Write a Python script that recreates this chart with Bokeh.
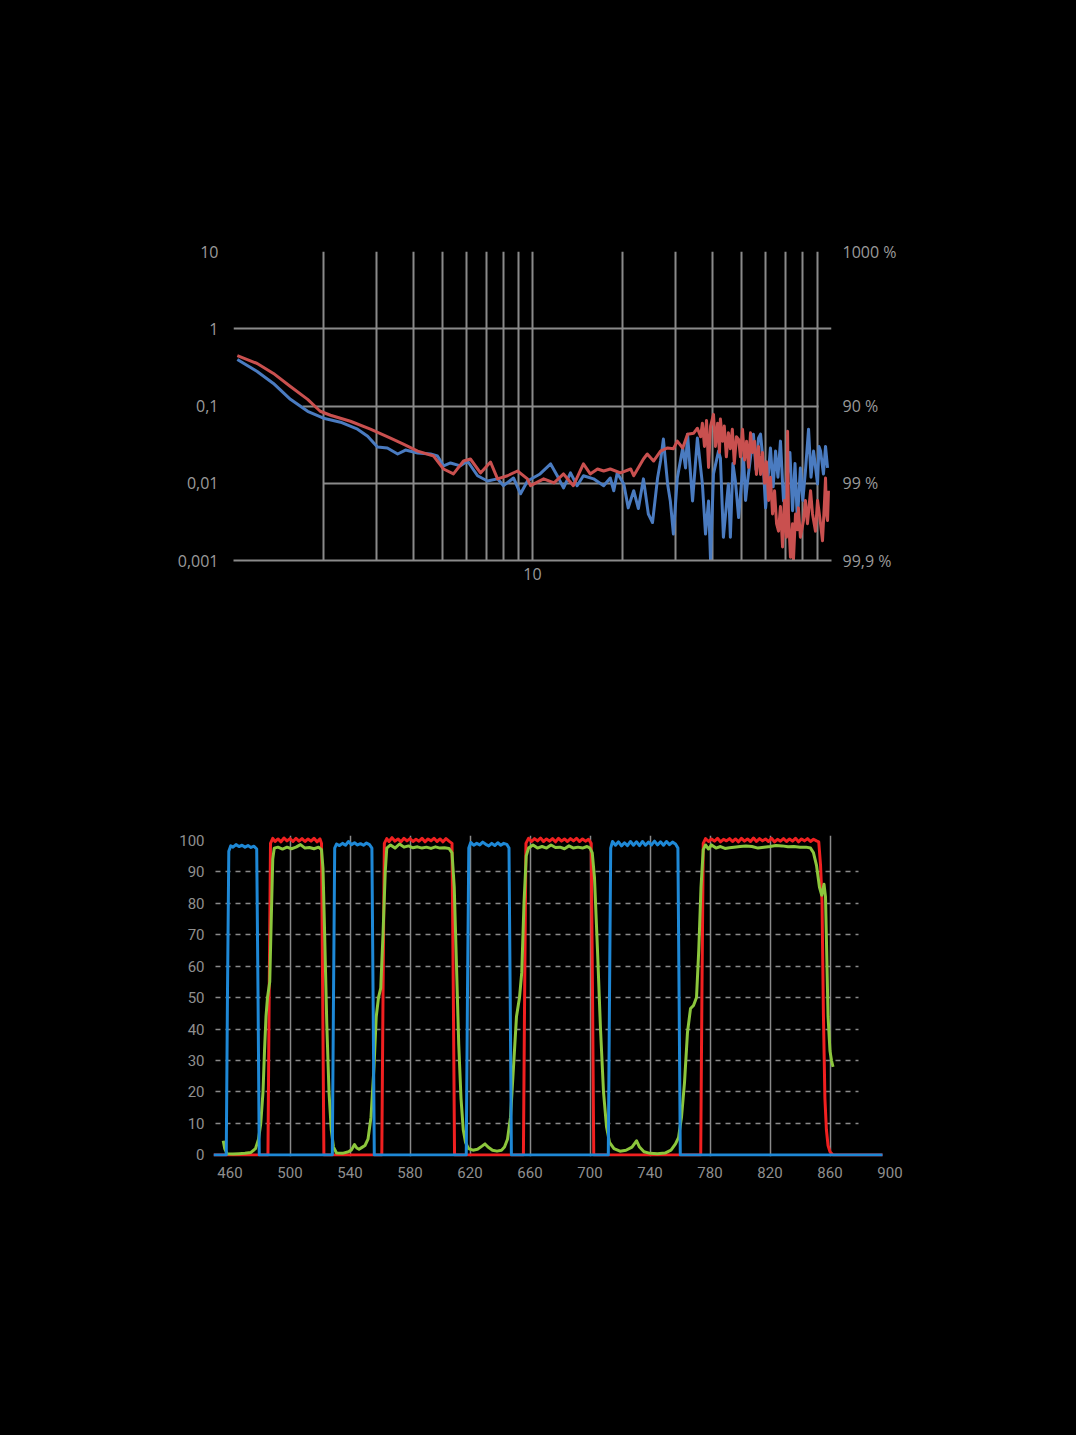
from bokeh.plotting import figure
from bokeh.models import FixedTicker, LogAxis, Grid, Range1d
from bokeh.embed import file_html
from bokeh.resources import INLINE

# ---------------- top chart data (log-log) ----------------
red_x = [1.03, 1.20, 1.36, 1.55, 1.77, 1.95, 2.11, 2.46, 2.87, 3.35, 3.70, 4.13, 4.67, 5.04, 5.44, 5.88,
         6.20, 6.70, 7.24, 7.64, 8.25, 8.91, 9.62, 9.85, 10.9, 11.8, 12.7, 13.7, 14.8, 15.6, 16.5, 17.3,
         18.2, 19.7, 21.3, 21.8, 23.5, 24.2, 25.4, 26.8, 28.3, 29.6, 30.5, 31.8, 33.0, 34.6, 35.6,
         36.5, 37.0, 37.6, 38.2, 38.8, 39.4, 40.3, 40.9, 41.6, 42.2, 42.5, 43.2, 43.8, 44.5, 45.2, 45.9,
         46.6, 47.3, 48.1, 48.9, 49.6, 50.4, 51.2, 52.0, 52.8, 53.6, 54.4, 55.3, 56.1, 57.0, 57.9, 58.8,
         59.7, 60.6, 61.6, 62.5, 63.5, 64.5, 65.5, 66.5, 67.5, 68.6, 69.6, 70.7, 71.3, 71.8, 72.9, 74.1,
         74.6, 75.8, 76.9, 77.5, 78.7, 80.6, 81.8, 83.1, 85.1, 86.4, 88.4, 89.8, 90.5, 91.9, 93.3, 94.8,
         95.5, 96.2, 97.0, 97.7]
red_y = [0.449, 0.355, 0.264, 0.179, 0.122, 0.0855, 0.0759, 0.0635, 0.0501, 0.0384, 0.0321, 0.0261,
         0.0225, 0.0153, 0.0132, 0.0194, 0.0206, 0.0136, 0.0188, 0.0114, 0.0125, 0.0144, 0.0114, 0.0093,
         0.0114, 0.0101, 0.0132, 0.0093, 0.0178, 0.0132, 0.0153, 0.0144, 0.0153, 0.0136, 0.0153, 0.0125,
         0.0206, 0.0239, 0.0194, 0.0261, 0.0286, 0.0280, 0.0351, 0.0286, 0.0432, 0.0445, 0.0515,
         0.040, 0.060, 0.030, 0.065, 0.016, 0.055, 0.078, 0.030, 0.060, 0.025, 0.068, 0.035, 0.055,
         0.022, 0.045, 0.028, 0.050, 0.018, 0.040, 0.037, 0.022, 0.050, 0.020, 0.035, 0.016, 0.045,
         0.025, 0.035, 0.013, 0.030, 0.013, 0.025, 0.010, 0.019, 0.006, 0.012, 0.004, 0.008, 0.003,
         0.0024, 0.005, 0.0015, 0.006, 0.002, 0.047, 0.004, 0.0011, 0.003, 0.001, 0.004, 0.0025, 0.0048,
         0.002, 0.0033, 0.006, 0.003, 0.008, 0.004, 0.0024, 0.006, 0.0048, 0.003, 0.0018, 0.006, 0.0117,
         0.004, 0.0033, 0.008]

blue_x = [1.03, 1.20, 1.36, 1.55, 1.77, 2.0, 2.28, 2.60, 2.81, 3.03, 3.27, 3.54, 3.76, 4.13, 4.56, 4.81,
          5.04, 5.32, 5.74, 6.06, 6.55, 7.07, 7.64, 8.00, 8.64, 9.12, 9.62, 10.6, 11.5, 12.1, 12.7, 13.4,
          14.1, 14.8, 16.0, 17.3, 18.2, 18.7, 19.2, 20.2, 20.9, 21.8, 22.6, 23.5, 24.4, 25.2, 26.2, 26.8,
          27.4, 28.3, 28.9, 29.6, 30.5, 31.8, 32.5, 33.0, 34.3, 35.6, 37.0, 37.9, 38.8, 39.4, 40.3, 41.9,
          42.5, 43.5, 45.2, 45.9, 46.8, 47.7, 48.9, 50.8, 51.6, 52.4, 54.8, 55.9, 57.0, 57.9, 59.0, 60.2,
          62.5, 63.8, 65.0, 66.2, 67.5, 69.1, 71.3, 72.6, 74.1, 75.5, 76.9, 78.7, 80.2, 81.8, 83.8, 85.4,
          87.1, 89.8, 90.8, 91.9, 94.0, 95.5, 97.0]
blue_y = [0.399, 0.280, 0.196, 0.122, 0.0855, 0.0695, 0.0617, 0.0501, 0.0407, 0.0294, 0.0286, 0.0239,
          0.0269, 0.0246, 0.0239, 0.0225, 0.0168, 0.0183, 0.0168, 0.0194, 0.0125, 0.0107, 0.0114, 0.0093,
          0.0117, 0.0073, 0.0107, 0.0132, 0.0178, 0.0125, 0.0087, 0.0136, 0.0093, 0.0125, 0.0114, 0.0093,
          0.0117, 0.0080, 0.0136, 0.0098, 0.0048, 0.0080, 0.0047, 0.0114, 0.0040, 0.0031, 0.0117, 0.0194,
          0.0373, 0.0098, 0.0059, 0.0022, 0.0117, 0.0286, 0.0158, 0.0432, 0.0059, 0.0384, 0.0098, 0.0022,
          0.0059, 0.0010, 0.0132, 0.0261, 0.0212, 0.0020, 0.0098, 0.0020, 0.0180, 0.0107, 0.0036, 0.0212,
          0.0060, 0.0107, 0.0432, 0.0150, 0.0384, 0.0432, 0.0200, 0.0048, 0.0286, 0.0090, 0.0261, 0.0120,
          0.0351, 0.0059, 0.0132, 0.0250, 0.0044, 0.0180, 0.0033, 0.0158, 0.0060, 0.0144, 0.0501, 0.0120,
          0.0261, 0.0098, 0.0300, 0.0261, 0.0132, 0.0300, 0.0158]

top_left_ticks = [0.001, 0.01, 0.1, 1, 10]
top_left_labels = ["0,001", "0,01", "0,1", "1", "10"]
top_right_ticks = [0.001, 0.01, 0.1, 10]
top_right_labels = ["99,9 %", "99 %", "90 %", "1000 %"]
top_x_ticks = [10]
top_x_labels = ["10"]
top_vgrid = [2, 3, 4, 5, 6, 7, 8, 9, 10, 20, 30, 40, 50, 60, 70, 80, 90]

# ---------------- bottom chart data (transmission spectra) ----------------
blue_wl = [449, 457.5, 458.3, 459.2, 460.5, 462, 464, 466, 468, 470, 472, 474, 476, 477.8, 478.7, 479.5,
           528.2, 529, 529.8, 531, 533, 535, 537, 539, 541, 543, 545, 547, 549, 551, 553, 554.6, 555.4, 556.2,
           617.5, 618.3, 619.2, 620.5, 622.5, 624.5, 626.5, 628.5, 630.5, 632.5, 634.5, 636.5, 638.5, 640.5,
           642.5, 644.5, 646, 646.8, 647.6,
           712.2, 713, 713.8, 715, 717, 719, 721, 723, 725, 727, 729, 731, 733, 735, 737, 739, 741, 743, 745,
           747, 749, 751, 753, 755, 757, 758.6, 759.4, 760.2, 895]
blue_t = [0, 0, 50, 96.5, 98.2, 97.8, 98.6, 98.0, 98.4, 97.8, 98.3, 97.7, 98.1, 97.2, 50, 0,
          0, 50, 97.5, 98.8, 98.3, 99.0, 98.4, 99.6, 98.6, 99.2, 98.5, 98.9, 98.4, 99.1, 98.6, 97.5, 50, 0,
          0, 50, 97.5, 99.3, 98.4, 99.0, 98.5, 99.4, 98.7, 98.2, 99.0, 98.3, 99.2, 98.4,
          99.0, 98.7, 97.5, 50, 0,
          0, 50, 97.5, 99.6, 98.4, 99.5, 98.2, 99.2, 98.3, 99.6, 98.4, 99.5, 98.3, 99.6, 98.4, 99.4, 98.5,
          99.7, 98.5, 99.5, 98.4, 99.6, 98.6, 99.4, 98.8, 97.5, 50, 0, 0]

red_wl = [449, 485.3, 486.1, 487,
          488.5, 490, 492, 494, 496, 498, 500, 502, 504, 506, 508, 510, 512, 514, 516, 518, 520,
          521, 521.8, 522.6,
          561.2, 562, 562.9,
          564.5, 566, 568, 570, 572, 574, 576, 578, 580, 582, 584, 586, 588, 590, 592, 594, 596, 598, 600,
          602, 604, 606,
          608, 608.9, 609.7,
          655.6, 656.4, 657.3,
          659, 661, 663, 665, 667, 669, 671, 673, 675, 677, 679, 681, 683, 685, 687, 689, 691, 693, 695,
          697, 699,
          700.8, 701.7, 702.5,
          773.8, 774.6, 775.5,
          777, 779, 781, 783, 785, 787, 789, 791, 793, 795, 797, 799, 801, 803, 805, 807, 809, 811, 813,
          815, 817, 819, 821, 823, 825, 827, 829, 831, 833, 835, 837, 839, 841, 843, 845, 847, 849, 851,
          852.5, 853.7, 854.7, 855.6, 856.6, 857.6, 858.7, 860, 862, 895]
red_t = [0, 0, 50, 99,
         100.6, 99.6, 100.4, 99.5, 100.7, 99.8, 100.5, 99.6, 100.6, 99.7, 100.5, 99.6, 100.4, 99.7, 100.6,
         99.5, 100.4,
         99.0, 50, 0,
         0, 50, 99,
         100.5, 99.6, 100.8, 99.7, 100.4, 99.5, 100.6, 99.8, 100.5, 99.6, 100.3, 99.7, 100.6, 99.5, 100.4,
         99.8, 100.6, 99.6, 100.4, 99.5, 100.5, 99.7,
         99.0, 50, 0,
         0, 50, 99,
         100.6, 99.6, 100.5, 99.8, 100.7, 99.6, 100.4, 99.7, 100.5, 99.5, 100.6, 99.7, 100.4, 99.6, 100.5,
         99.8, 100.6, 99.6, 100.4, 99.7, 100.3,
         99.0, 50, 0,
         0, 50, 99,
         100.5, 99.6, 100.4, 99.7, 100.6, 99.5, 100.3, 99.8, 100.5, 99.6, 100.4, 99.5, 100.6, 99.7, 100.4,
         99.6, 100.7, 99.6, 100.5, 99.8, 100.4, 99.6, 100.6, 99.5, 100.3, 99.7, 100.5, 99.6, 100.4, 99.7,
         100.6, 99.5, 100.4, 99.8, 100.5, 99.6, 100.3, 99.8,
         99.5, 92, 80, 45, 18, 8, 3, 1, 0, 0]

green_wl = [455.5, 456.5, 458, 462, 466, 470, 474, 477, 479, 480.5, 482, 483, 484, 485, 486.5, 487.5, 488.5,
            489.5, 492, 495, 498, 501, 504, 507, 510, 513, 516, 519, 521, 522, 523, 524.5, 526, 527.5, 529,
            531, 535, 539, 541, 543, 544.5, 546, 548, 550, 552, 554, 556, 557.5, 559, 560.5, 562, 563.5,
            564.5, 567, 570, 573, 576, 579, 582, 585, 588, 591, 594, 597, 600, 603, 606, 608, 609.5, 611,
            612.5, 614, 615.5, 617, 619, 622, 625, 628, 630, 632, 635, 638, 641, 643, 645, 647, 649, 651,
            653, 654.5, 656, 657.5, 659, 662, 665, 668, 671, 674, 677, 680, 683, 686, 689, 692, 695, 698,
            700, 701.5, 703, 705, 707, 709, 711, 713, 716, 720, 724, 728, 731, 733, 736, 740, 745, 750, 754,
            757, 759, 761, 763, 765, 767, 769, 771, 772.5, 774, 775.5, 777, 779, 781, 784, 787, 790, 793,
            796, 800, 804, 808, 812, 816, 820, 824, 828, 832, 836, 840, 844, 847, 849, 851, 853, 854.5, 856,
            857, 858, 858.7, 860, 861, 862]
green_t = [4.5, 2.0, 0.4, 0.3, 0.4, 0.5, 0.8, 2.0, 5.0, 10, 20, 33, 44, 50, 55, 75, 94,
           97.5, 97.8, 97.2, 97.8, 97.3, 97.8, 98.6, 97.5, 97.7, 97.3, 97.8, 97.0, 91, 72, 42, 20, 8, 2.5,
           0.6, 0.5, 1.0, 1.6, 3.3, 2.2, 1.8, 2.4, 3.0, 5.0, 12, 28, 44, 50, 53, 70, 90,
           97.5, 98.5, 97.5, 98.8, 97.8, 98.2, 97.6, 97.9, 97.5, 97.8, 97.4, 97.9, 97.5, 97.6, 97.4, 96.0, 85, 60,
           35, 18, 8, 4, 2, 1.5, 1.8, 2.8, 3.5, 2.5, 1.5, 1.2, 1.5, 2.5, 5, 12, 28, 44,
           50, 58, 80, 95, 97.5, 98.5, 97.5, 98.0, 97.5, 98.5, 97.7, 97.8, 97.3, 98.2, 97.5, 97.8, 97.5, 98.0,
           97.5, 96, 88, 65, 40, 20, 9, 4, 2, 1.2, 1.5, 2.5, 4.5, 2.5, 1.0, 0.5, 0.4, 0.6, 1.5,
           3.5, 5.5, 12, 23, 39, 46.5, 47.5, 50, 65, 85, 97, 98.5, 97.2, 98.5, 97.5, 98.0, 97.4, 97.6,
           97.8, 98.0, 98.2, 98.0, 97.5, 97.8, 98.0, 98.3, 98.2, 97.9, 98.0, 97.8, 97.8, 97.5, 96, 92, 85, 82.5, 86,
           82, 60, 44, 33, 30, 28]

bot_y_ticks = [0, 10, 20, 30, 40, 50, 60, 70, 80, 90, 100]
bot_dash_grid = [10, 20, 30, 40, 50, 60, 70, 80, 90]
bot_x_ticks = [460, 500, 540, 580, 620, 660, 700, 740, 780, 820, 860, 900]
bot_vgrid = [500, 540, 580, 620, 660, 700, 740, 780, 820, 860]

GRID = "#8a8a8a"
TOP_FONT = "Open Sans"
BOT_FONT = "Roboto"

# ---------------- top figure ----------------
top = figure(x_axis_type="log", y_axis_type="log",
             x_range=Range1d(1, 100), y_range=Range1d(0.001, 10),
             frame_width=598, frame_height=309,
             min_border_left=233, min_border_right=229, min_border_top=251, min_border_bottom=140,
             output_backend="svg", toolbar_location=None,
             background_fill_color="black", border_fill_color="black", outline_line_color=None)

top.xgrid.ticker = FixedTicker(ticks=top_vgrid)
top.xgrid.grid_line_color = GRID
top.xgrid.grid_line_width = 2
top.ygrid.visible = False
top.add_layout(Grid(dimension=1, ticker=FixedTicker(ticks=[1]), grid_line_color=GRID, grid_line_width=2))
top.add_layout(Grid(dimension=1, ticker=FixedTicker(ticks=[0.1]), cross_bounds=(1.70, 90.5),
                    grid_line_color=GRID, grid_line_width=2))
top.add_layout(Grid(dimension=1, ticker=FixedTicker(ticks=[0.01]), cross_bounds=(2.0, 90.5),
                    grid_line_color=GRID, grid_line_width=2))


def style_axis(ax, font, size, color, standoff):
    ax.axis_line_color = None
    ax.major_tick_line_color = None
    ax.minor_tick_line_color = None
    ax.major_tick_out = 0
    ax.major_tick_in = 0
    ax.minor_tick_out = 0
    ax.minor_tick_in = 0
    ax.major_label_text_font = font
    ax.major_label_text_font_size = size
    ax.major_label_text_color = color
    ax.major_label_standoff = standoff


ly = top.yaxis[0]
ly.ticker = FixedTicker(ticks=top_left_ticks)
ly.major_label_overrides = dict(zip(top_left_ticks, top_left_labels))
style_axis(ly, TOP_FONT, "16px", "#9a9a9a", 15)

ry = LogAxis(ticker=FixedTicker(ticks=top_right_ticks),
             major_label_overrides=dict(zip(top_right_ticks, top_right_labels)))
style_axis(ry, TOP_FONT, "16px", "#9a9a9a", 11)
top.add_layout(ry, "right")

bx_ax = top.xaxis[0]
bx_ax.ticker = FixedTicker(ticks=top_x_ticks)
bx_ax.major_label_overrides = dict(zip(top_x_ticks, top_x_labels))
style_axis(bx_ax, TOP_FONT, "16px", "#9a9a9a", 7)
bx_ax.axis_line_color = GRID
bx_ax.axis_line_width = 2

top.line(blue_x, blue_y, line_color="#4a7bc0", line_width=3, line_join="round")
top.line(red_x, red_y, line_color="#c9504f", line_width=3, line_join="round")

# ---------------- bottom figure ----------------
bot = figure(x_range=Range1d(449, 901), y_range=Range1d(-0.5, 101.5),
             frame_width=678, frame_height=321,
             min_border_left=213, min_border_right=169, min_border_top=135, min_border_bottom=80,
             output_backend="svg", toolbar_location=None,
             background_fill_color="black", border_fill_color="black", outline_line_color=None)

bot.xgrid.ticker = FixedTicker(ticks=bot_vgrid)
bot.xgrid.grid_line_color = GRID
bot.xgrid.grid_line_width = 1.5
bot.ygrid.ticker = FixedTicker(ticks=bot_dash_grid)
bot.ygrid.grid_line_color = GRID
bot.ygrid.grid_line_width = 1.5
bot.ygrid.grid_line_dash = "5 5"
bot.ygrid.cross_bounds = (450, 879)

lax = bot.yaxis[0]
lax.ticker = FixedTicker(ticks=bot_y_ticks)
style_axis(lax, BOT_FONT, "15px", "#8f8f8f", 9)
xax = bot.xaxis[0]
xax.ticker = FixedTicker(ticks=bot_x_ticks)
style_axis(xax, BOT_FONT, "15px", "#8f8f8f", 10)

bot.line(red_wl, red_t, line_color="#f02020", line_width=3, line_join="round")
bot.line(green_wl, green_t, line_color="#8cc63c", line_width=3, line_join="round")
bot.line(blue_wl, blue_t, line_color="#1e88d6", line_width=3, line_join="round")

html = file_html([top, bot], INLINE)
html = html.replace("<head>", "<head><style>html,body{background:#000;}</style>", 1)
open("out.html", "w").write(html)
